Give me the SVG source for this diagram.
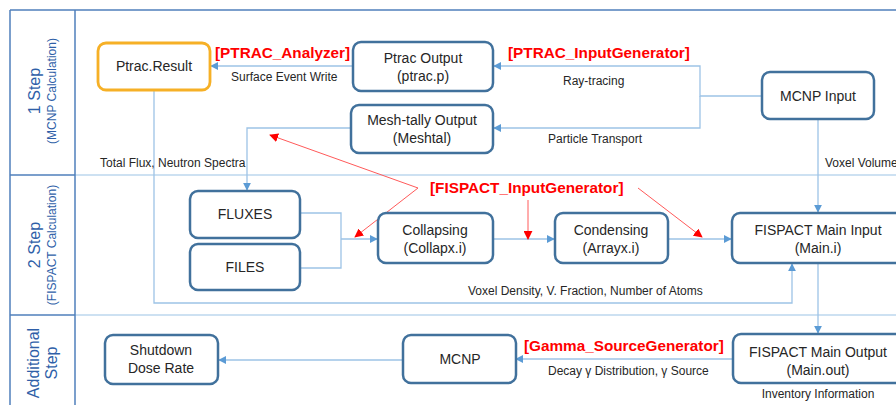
<svg xmlns="http://www.w3.org/2000/svg" width="896" height="405" viewBox="0 0 896 405">
<defs>
<marker id="ab" viewBox="0 0 10 10" refX="9" refY="5" markerWidth="8" markerHeight="8" markerUnits="userSpaceOnUse" orient="auto"><path d="M0,0 L10,5 L0,10 z" fill="#5b9bd5"/></marker>
<marker id="ar" viewBox="0 0 10 10" refX="9" refY="5" markerWidth="9" markerHeight="9" markerUnits="userSpaceOnUse" orient="auto"><path d="M0,0 L10,5 L0,10 z" fill="#ff0000"/></marker>
</defs>
<style>
.frame{stroke:#4f7fbb;stroke-width:1.5;fill:none}
.lane{stroke:#bdd7ee;stroke-width:1.5;fill:none}
.hd{font-family:"Liberation Sans",Arial,sans-serif;fill:#2f5fa8;text-anchor:middle}
.node{fill:#fff;stroke:#41719c;stroke-width:2.5}
.onode{fill:#fff;stroke:#f6b026;stroke-width:2.8}
.nt{font-family:"Liberation Sans",Arial,sans-serif;font-size:14px;fill:#262626;text-anchor:middle}
.lbl{font-family:"Liberation Sans",Arial,sans-serif;font-size:12px;fill:#262626}
.red{font-family:"Liberation Sans",Arial,sans-serif;font-size:15.3px;font-weight:bold;fill:#ff0000}
.c{stroke:#9dc3e6;stroke-width:1.3;fill:none}
.r{stroke:#ff5a5a;stroke-width:1;fill:none}
</style>
<rect width="896" height="405" fill="#fff"/>
<g id="lanes">
<line class="lane" x1="75" y1="175" x2="896" y2="175"/>
<line class="lane" x1="75" y1="315" x2="896" y2="315"/>
<line class="frame" x1="10" y1="10" x2="896" y2="10"/>
<line class="frame" x1="10" y1="10" x2="10" y2="405"/>
<line class="frame" x1="75" y1="10" x2="75" y2="405"/>
<line class="frame" x1="10" y1="175" x2="75" y2="175"/>
<line class="frame" x1="10" y1="315" x2="75" y2="315"/>
<text class="hd" font-size="16" transform="translate(40,91) rotate(-90)">1 Step</text>
<text class="hd" font-size="12" transform="translate(56,91) rotate(-90)">(MCNP Calculation)</text>
<text class="hd" font-size="16" transform="translate(40,245) rotate(-90)">2 Step</text>
<text class="hd" font-size="12" transform="translate(56,245) rotate(-90)">(FISPACT Calculation)</text>
<text class="hd" font-size="16" transform="translate(39,363) rotate(-90)">Additional</text>
<text class="hd" font-size="16" transform="translate(57,363) rotate(-90)">Step</text>
</g>
<g id="connectors">
<path class="c" d="M353,66 H211" marker-end="url(#ab)"/>
<path class="c" d="M762,96 H700 V66 H494" marker-end="url(#ab)"/>
<path class="c" d="M700,96 V128 H494" marker-end="url(#ab)"/>
<path class="c" d="M351,128 H247 V190" marker-end="url(#ab)"/>
<path class="c" d="M154,91 V303 H792 V264" marker-end="url(#ab)"/>
<path class="c" d="M300,213 H341 V268 H300"/>
<path class="c" d="M341,239 H377" marker-end="url(#ab)"/>
<path class="c" d="M493,239 H554" marker-end="url(#ab)"/>
<path class="c" d="M668,239 H731" marker-end="url(#ab)"/>
<path class="c" d="M818,119 V212" marker-end="url(#ab)"/>
<path class="c" d="M818,263 V333" marker-end="url(#ab)"/>
<path class="c" d="M733,359 H516" marker-end="url(#ab)"/>
<path class="c" d="M403,360 H219" marker-end="url(#ab)"/>
<path class="r" d="M418,188 L270,135" marker-end="url(#ar)"/>
<path class="r" d="M418,188 L355,237" marker-end="url(#ar)"/>
<path class="r" d="M528,200 V239" marker-end="url(#ar)"/>
<path class="r" d="M638,188 L702,237" marker-end="url(#ar)"/>
<text class="lbl" x="231" y="81">Surface Event Write</text>
<text class="lbl" x="563" y="85">Ray-tracing</text>
<text class="lbl" x="548" y="143">Particle Transport</text>
<text class="lbl" x="100" y="167">Total Flux, Neutron Spectra</text>
<text class="lbl" x="825" y="167" font-size="11.5">Voxel Volume</text>
<text class="lbl" x="468" y="295">Voxel Density, V. Fraction, Number of Atoms</text>
<text class="lbl" x="548" y="375">Decay γ Distribution, γ Source</text>
<text class="lbl" x="818" y="398" text-anchor="middle">Inventory Information</text>
<text class="red" x="215" y="58">[PTRAC_Analyzer]</text>
<text class="red" x="508" y="58">[PTRAC_InputGenerator]</text>
<text class="red" x="430" y="193">[FISPACT_InputGenerator]</text>
<text class="red" x="524" y="351">[Gamma_SourceGenerator]</text>
</g>
<g id="ptrac-result"><rect class="onode" x="98" y="43" width="112" height="47" rx="8"/><text class="nt" x="154" y="71">Ptrac.Result</text></g>
<g id="ptrac-output"><rect class="node" x="353" y="42" width="140" height="49" rx="8"/><text class="nt" x="423" y="63">Ptrac Output</text><text class="nt" x="423" y="81">(ptrac.p)</text></g>
<g id="meshtal"><rect class="node" x="351" y="105" width="142" height="48" rx="8"/><text class="nt" x="422" y="125">Mesh-tally Output</text><text class="nt" x="422" y="143">(Meshtal)</text></g>
<g id="mcnp-input"><rect class="node" x="762" y="72" width="112" height="47" rx="8"/><text class="nt" x="818" y="101">MCNP Input</text></g>
<g id="fluxes"><rect class="node" x="190" y="191" width="110" height="47" rx="8"/><text class="nt" x="245" y="219">FLUXES</text></g>
<g id="files"><rect class="node" x="190" y="244" width="110" height="46" rx="8"/><text class="nt" x="245" y="272">FILES</text></g>
<g id="collapsing"><rect class="node" x="378" y="213" width="115" height="50" rx="8"/><text class="nt" x="435" y="235">Collapsing</text><text class="nt" x="435" y="253">(Collapx.i)</text></g>
<g id="condensing"><rect class="node" x="555" y="213" width="113" height="50" rx="8"/><text class="nt" x="611" y="235">Condensing</text><text class="nt" x="611" y="253">(Arrayx.i)</text></g>
<g id="main-input"><rect class="node" x="732" y="213" width="178" height="50" rx="8"/><text class="nt" x="818" y="235">FISPACT Main Input</text><text class="nt" x="818" y="253">(Main.i)</text></g>
<g id="main-output"><rect class="node" x="733" y="334" width="177" height="49" rx="8"/><text class="nt" x="818" y="357">FISPACT Main Output</text><text class="nt" x="818" y="375">(Main.out)</text></g>
<g id="mcnp"><rect class="node" x="403" y="335" width="113" height="48" rx="8"/><text class="nt" x="460" y="364">MCNP</text></g>
<g id="shutdown"><rect class="node" x="105" y="335" width="113" height="49" rx="8"/><text class="nt" x="161" y="355">Shutdown</text><text class="nt" x="161" y="373">Dose Rate</text></g>
</svg>
